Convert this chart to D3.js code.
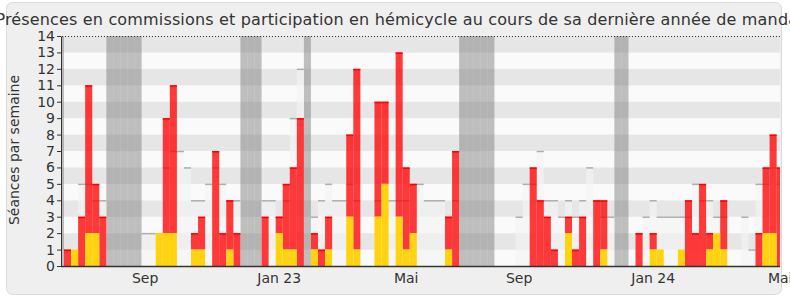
<!DOCTYPE html>
<html>
<head>
<meta charset="utf-8">
<script src="https://cdn.jsdelivr.net/npm/d3@7"></script>
<style>
  body { margin: 0; background: #fff; }
  svg { display: block; font-family: "DejaVu Sans", sans-serif; }
</style>
</head>
<body>
<script>
// one entry per week, index 0 = first full week on the chart
// null = no data that week
const hemicycle = [
  0, 1, 0, 2, 2, 0,
  null, null, null, null, null,
  0, 0, 2, 2, 2, 0, 0, 1, 1, 0, 0, 0, 1, 0,
  null, null, null,
  0, 0, 2, 1, 1, 0,
  null,
  1, 0, 1, 0, 0, 3, 1,
  null, null,
  3, 5, 0, 3, 1, 2, 0, 0, 0, 0, 1, 0,
  null, null, null, null, null, null, null, null,
  0, 0, 0, 0, 0, 0, 0, 2, 0, 0, 0, 0, 1, 0,
  null, null, null,
  0, 0, 1, 1, 0, 0, 1, 0, 0, 0, 1, 2, 1,
  null, null,
  0, 0, 0, 2, 2, 0,
];
const commission = [
  1, 0, 3, 9, 3, 3,
  null, null, null, null, null,
  0, 0, 0, 7, 9, 0, 0, 1, 2, 0, 7, 2, 3, 2,
  null, null, null,
  3, 0, 1, 4, 5, 9,
  null,
  1, 1, 2, 0, 0, 5, 11,
  null, null,
  7, 5, 0, 10, 5, 3, 0, 0, 0, 0, 2, 7,
  null, null, null, null, null, null, null, null,
  0, 0, 6, 4, 3, 1, 0, 1, 1, 3, 0, 4, 3, 0,
  null, null, null,
  2, 0, 1, 0, 0, 0, 0, 4, 2, 5, 1, 0, 3,
  null, null,
  0, 0, 2, 4, 6, 6,
];
// median of all deputies (light grey bars)
const median = [
  null, null, 5, 5, 4, 4,
  null, null, null, null, null,
  2, 2, 2, 6, 7, 7, 6, 4, 4, 5, 6, 5, 4, 4,
  null, null, null,
  4, 4, 3, 4, 9, 12,
  null,
  3, 4, 5, 4, 4, 5, 4,
  null, null,
  4, 4, 4, 4, 4, 5, 5, 4, 4, 4, 3, 4,
  null, null, null, null, null, null, null, null,
  3, 5, 5, 7, 4, 4, 3, 4, 3, 4, 6, 4, 3, 3,
  null, null, null,
  2, 3, 4, 3, 3, 3, 3, 3, 5, 4, 4, 3, 3,
  null, null,
  3, 1, 5, 5, 6, 5,
];
// parliamentary breaks (week indices)
const vacances = [-1, 6, 7, 8, 9, 10, 25, 26, 27, 34, 56, 57, 58, 59, 60, 78, 79];
const tickWeeks = [11, 30, 48, 64, 83, 101];
const tickLabels = ['Sep', 'Jan 23', 'Mai', 'Sep', 'Jan 24', 'Mai'];
const yTicks = d3.range(0, 15);

const width = 790;
const height = 300;
const plot = { left: 62, right: 780, top: 36, bottom: 266 };
const step = 7.056;
const firstWeekX = 64;

const weeks = d3.range(-1, hemicycle.length);
const data = d3.range(hemicycle.length).map(i => ({
  week: i, h: hemicycle[i], c: commission[i], m: median[i],
}));

const svg = d3.select('body').append('svg')
  .attr('width', width)
  .attr('height', height);

// outer frame
svg.append('rect')
  .attr('x', 6.5).attr('y', 2.5)
  .attr('width', 775).attr('height', 292)
  .attr('rx', 6)
  .attr('fill', '#efefef')
  .attr('stroke', '#dadada');

// scales: one band per week
const x = d3.scaleBand()
  .domain(weeks)
  .range([firstWeekX - step, firstWeekX + (weeks.length - 1) * step]);
const y = d3.scaleLinear().domain([0, 14]).range([plot.bottom, plot.top]);
const bw = x.bandwidth();

svg.append('clipPath').attr('id', 'clip')
  .append('rect')
  .attr('x', plot.left).attr('y', plot.top)
  .attr('width', plot.right - plot.left).attr('height', plot.bottom - plot.top);

const g = svg.append('g').attr('clip-path', 'url(#clip)');

// striped background
g.selectAll('.stripe').data(yTicks.slice(0, 14)).enter().append('rect')
  .attr('x', plot.left)
  .attr('width', plot.right - plot.left)
  .attr('y', d => y(d + 1))
  .attr('height', d => y(d) - y(d + 1))
  .attr('fill', d => (d % 2 ? '#e6e6e6' : '#fafafa'));

// breaks
g.selectAll('.vac').data(vacances).enter().append('rect')
  .attr('x', d => x(d))
  .attr('width', bw)
  .attr('y', plot.top)
  .attr('height', plot.bottom - plot.top)
  .attr('fill', 'rgba(117,117,117,0.45)');

// median bars
const med = data.filter(d => d.m);
g.selectAll('.med').data(med).enter().append('rect')
  .attr('x', d => x(d.week))
  .attr('width', bw)
  .attr('y', d => y(d.m))
  .attr('height', d => y(0) - y(d.m))
  .attr('fill', 'rgba(244,244,244,0.65)');
g.selectAll('.medline').data(med).enter().append('line')
  .attr('x1', d => x(d.week))
  .attr('x2', d => x(d.week) + bw)
  .attr('y1', d => y(d.m) + 0.5)
  .attr('y2', d => y(d.m) + 0.5)
  .attr('stroke', '#adadad')
  .attr('stroke-width', 1.5);

// commission bars, stacked above hemicycle
const com = data.filter(d => d.c);
g.selectAll('.com').data(com).enter().append('rect')
  .attr('x', d => x(d.week))
  .attr('width', bw)
  .attr('y', d => y(d.h + d.c))
  .attr('height', d => y(d.h) - y(d.h + d.c))
  .attr('fill', 'rgba(255,0,0,0.77)');
g.selectAll('.comtop').data(com).enter().append('line')
  .attr('x1', d => x(d.week))
  .attr('x2', d => x(d.week) + bw)
  .attr('y1', d => y(d.h + d.c) + 0.75)
  .attr('y2', d => y(d.h + d.c) + 0.75)
  .attr('stroke', '#f00')
  .attr('stroke-width', 1.5);

// hemicycle bars
g.selectAll('.hem').data(data.filter(d => d.h)).enter().append('rect')
  .attr('x', d => x(d.week))
  .attr('width', bw)
  .attr('y', d => y(d.h))
  .attr('height', d => y(0) - y(d.h))
  .attr('fill', '#ffd30f');

// dotted top line
svg.append('line')
  .attr('x1', plot.left).attr('x2', plot.right)
  .attr('y1', plot.top + 0.5).attr('y2', plot.top + 0.5)
  .attr('stroke', '#333')
  .attr('stroke-dasharray', '1,2');

// axes
const yAxis = svg.append('g')
  .attr('transform', `translate(${plot.left - 1},0)`)
  .call(d3.axisLeft(y).tickValues(yTicks).tickSize(4).tickSizeOuter(0).tickPadding(2));
yAxis.selectAll('text').attr('font-size', 14).attr('font-family', 'DejaVu Sans').attr('fill', '#333');
yAxis.selectAll('line, path').attr('stroke', '#333');

const xAxis = svg.append('g')
  .attr('transform', `translate(0,${plot.bottom})`)
  .call(d3.axisBottom(x).tickValues(tickWeeks)
    .tickFormat((d, i) => tickLabels[i]).tickSize(0).tickPadding(7));
xAxis.select('.domain').remove();
xAxis.selectAll('text').attr('font-size', 14).attr('font-family', 'DejaVu Sans').attr('fill', '#333');
svg.append('line')
  .attr('x1', plot.left - 1).attr('x2', plot.right)
  .attr('y1', plot.bottom + 0.5).attr('y2', plot.bottom + 0.5)
  .attr('stroke', '#333')
  .attr('stroke-width', 1.5);

// axis title
svg.append('text')
  .attr('transform', 'translate(19,150) rotate(-90)')
  .attr('text-anchor', 'middle')
  .attr('font-size', 14)
  .attr('fill', '#333')
  .text('Séances par semaine');

// title (overflows the frame like the original)
svg.append('text')
  .attr('x', 400)
  .attr('y', 25)
  .attr('text-anchor', 'middle')
  .attr('font-size', 16)
  .attr('letter-spacing', 0.16)
  .attr('fill', '#333')
  .text('Présences en commissions et participation en hémicycle au cours de sa dernière année de mandat');
</script>
</body>
</html>
